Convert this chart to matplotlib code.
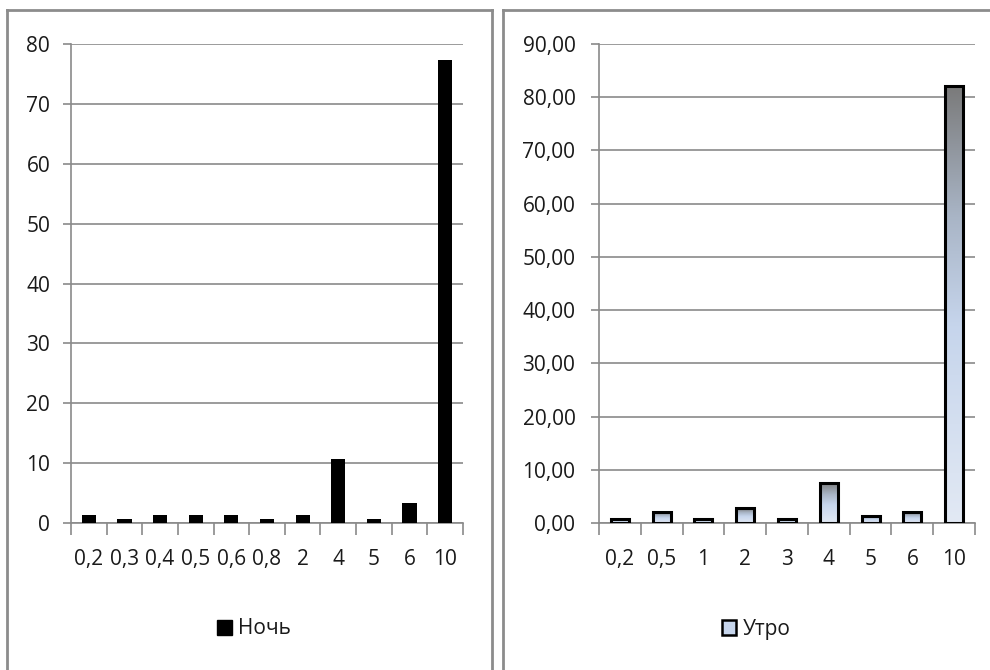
import numpy as np
import matplotlib
matplotlib.use('Agg')
import matplotlib.pyplot as plt
from matplotlib.colors import LinearSegmentedColormap
from matplotlib.lines import Line2D
from matplotlib.patches import Patch

# ---- data ----
night_categories = ['0,2', '0,3', '0,4', '0,5', '0,6', '0,8', '2', '4', '5', '6', '10']
night_values = [1.33, 0.67, 1.33, 1.33, 1.33, 0.67, 1.33, 10.67, 0.67, 3.33, 77.33]
night_label = 'Ночь'
night_yticks = [0, 10, 20, 30, 40, 50, 60, 70, 80]
night_yticklabels = ['0', '10', '20', '30', '40', '50', '60', '70', '80']

morning_categories = ['0,2', '0,5', '1', '2', '3', '4', '5', '6', '10']
morning_values = [0.68, 2.05, 0.68, 2.74, 0.68, 7.53, 1.37, 2.05, 82.19]
morning_label = 'Утро'
morning_yticks = [0, 10, 20, 30, 40, 50, 60, 70, 80, 90]
morning_yticklabels = ['0,00', '10,00', '20,00', '30,00', '40,00', '50,00',
                       '60,00', '70,00', '80,00', '90,00']

plt.rcParams['font.family'] = ['Open Sans', 'DejaVu Sans']
W, H = 990, 670
fig = plt.figure(figsize=(W / 100, H / 100), dpi=100)
fig.patch.set_facecolor('white')

GRID = '#8a8a8a'
TXT = '#1a1a1a'
FS = 15

Y_TOP, Y_ZERO = 44, 523


def fx(px):
    return px / W


def fy(py):
    return 1 - py / H


def style_axes(ax, cats, yticks, yticklabels, ypad):
    n = len(cats)
    ax.set_xlim(-0.5, n - 0.5)
    ax.set_ylim(yticks[0], yticks[-1])
    ax.set_xticks(np.arange(n))
    ax.set_xticklabels(cats, fontsize=FS, color=TXT)
    ax.set_xticks(np.arange(n + 1) - 0.5, minor=True)
    ax.tick_params(axis='x', which='major', length=0, pad=19)
    ax.tick_params(axis='x', which='minor', length=8.6, width=1.2, color=GRID)
    ax.set_yticks(yticks)
    ax.set_yticklabels(yticklabels, fontsize=FS, color=TXT)
    ax.tick_params(axis='y', which='major', length=6, width=1.2, color=GRID, pad=ypad)
    ax.yaxis.grid(True, color=GRID, lw=1.2)
    ax.set_axisbelow(True)
    for s in ['top', 'right']:
        ax.spines[s].set_visible(False)
    for s in ['left', 'bottom']:
        ax.spines[s].set_color(GRID)
        ax.spines[s].set_linewidth(1.2)


# ---- left: Ночь ----
axL = fig.add_axes([fx(71), fy(Y_ZERO), fx(463) - fx(71), fy(Y_TOP) - fy(Y_ZERO)])
xL = np.arange(len(night_categories))
axL.bar(xL, night_values, width=0.4, color='black', zorder=3)
style_axes(axL, night_categories, night_yticks, night_yticklabels, 9)

# ---- right: Утро ----
axR = fig.add_axes([fx(599), fy(Y_ZERO), fx(975) - fx(599), fy(Y_TOP) - fy(Y_ZERO)])
xR = np.arange(len(morning_categories))
bars = axR.bar(xR, morning_values, width=0.43, facecolor='none', edgecolor='black',
               linewidth=2.2, zorder=4)
cmap = LinearSegmentedColormap.from_list(
    'g', [(0.0, '#e2e9f4'), (0.45, '#c6d5ec'), (0.7, '#a9b5c6'), (1.0, '#7a7a7a')])
grad = np.linspace(0, 1, 256).reshape(-1, 1)
for b in bars:
    x0, y0, w, h = b.get_x(), b.get_y(), b.get_width(), b.get_height()
    im = axR.imshow(grad, extent=[x0, x0 + w, y0, y0 + h], origin='lower',
                    aspect='auto', cmap=cmap, zorder=3.5, interpolation='bilinear')
    im.set_clip_path(b)
style_axes(axR, morning_categories, morning_yticks, morning_yticklabels, 11)

# ---- legends ----
hL = Patch(facecolor='black', edgecolor='black', label=night_label)
fig.legend(handles=[hL], loc='center', bbox_to_anchor=(fx(254), fy(629)), frameon=False,
           fontsize=FS, handlelength=0.7, handleheight=0.7, handletextpad=0.3,
           labelcolor=TXT)
hR = Patch(facecolor='#c6d5ec', edgecolor='black', linewidth=1.8, label=morning_label)
fig.legend(handles=[hR], loc='center', bbox_to_anchor=(fx(756), fy(629)), frameon=False,
           fontsize=FS, handlelength=0.7, handleheight=0.7, handletextpad=0.3,
           labelcolor=TXT)

# ---- panel borders ----
BC = '#8c8c8c'
for xs, ys in [((7, 7), (10, 672)), ((7, 492), (10, 10)), ((492, 492), (10, 672)),
               ((503, 503), (10, 672)), ((503, 992), (10, 10))]:
    fig.add_artist(Line2D([fx(xs[0]), fx(xs[1])], [fy(ys[0]), fy(ys[1])],
                          transform=fig.transFigure, color=BC, lw=2))

fig.savefig('out.png', dpi=100)
